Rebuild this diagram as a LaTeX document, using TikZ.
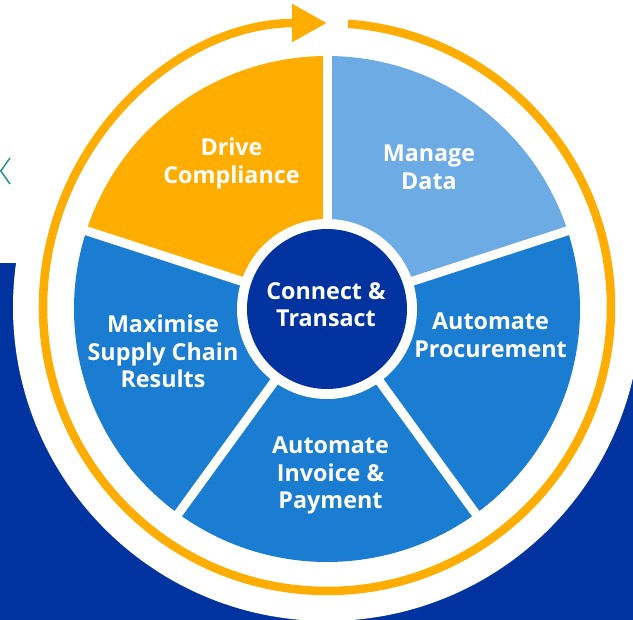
\documentclass[tikz,border=0pt]{standalone}
\usepackage{fontspec}
\setmainfont{Open Sans}
\usetikzlibrary{arrows.meta}
\definecolor{cOrange}{HTML}{FFAD00}
\definecolor{cLight}{HTML}{6CABE3}
\definecolor{cMid}{HTML}{1A7DD1}
\definecolor{cNavy}{HTML}{0033A0}
\definecolor{cTeal}{HTML}{1E8C8C}
\newcommand{\twoline}[1]{\begin{tabular}[t]{@{}c@{}}#1\end{tabular}}
\begin{document}
\begin{tikzpicture}[x=1pt,y=1pt,
  lbl/.style={text=white, font=\bfseries\fontsize{23.3}{27.5}\selectfont, anchor=base, inner sep=0pt},
  divider/.style={white, line width=9pt},
  ring/.style={cOrange, line width=8.5pt}]
\useasboundingbox (0,0) rectangle (633,620);
\fill[white] (0,0) rectangle (633,620);
\fill[cNavy] (0,0) rectangle (633,357);
\coordinate (R) at (327,313);
\coordinate (W) at (327,311);
\fill[white] (R) circle[radius=314];
% teal chevron
\coordinate (ch1) at (10,462);
\coordinate (ch2) at (0.8,449);
\coordinate (ch3) at (10,436);
\draw[cTeal, line width=1.4pt] (ch1) -- (ch2) -- (ch3);
% orange ring with arrow
\draw[ring, -{Triangle[length=35pt,width=36pt]}] ([shift={(85.76:284)}]R) arc[start angle=85.76, end angle=-270, radius=284];
% segments
\fill[cOrange] (W) -- ++(90:253) arc[start angle=90, end angle=162, radius=253] -- cycle;
\fill[cLight] (W) -- ++(18:253) arc[start angle=18, end angle=90, radius=253] -- cycle;
\fill[cMid] (W) -- ++(-54:253) arc[start angle=-54, end angle=18, radius=253] -- cycle;
\fill[cMid] (W) -- ++(-126:253) arc[start angle=-126, end angle=-54, radius=253] -- cycle;
\fill[cMid] (W) -- ++(162:253) arc[start angle=162, end angle=234, radius=253] -- cycle;
\foreach \a in {90,18,-54,-126,162} \draw[divider] (W) -- ++(\a:258);
\fill[white] (W) circle[radius=90];
\node[circle, fill=cNavy, minimum size=160pt, inner sep=0pt] (hub) at (W) {};
% labels
\node[lbl] (drive) at (231.5,464) {\twoline{Drive\\Compliance}};
\node[lbl] (manage) at (429,458) {\twoline{Manage\\Data}};
\node[lbl] (proc) at (490.5,290) {\twoline{Automate\\Procurement}};
\node[lbl] (maxi) at (163,287) {\twoline{Maximise\\Supply Chain\\Results}};
\node[lbl] (conn) at (326,320.7) {\twoline{Connect \&\\Transact}};
\node[lbl] (invoice) at (330.5,166) {\twoline{Automate\\Invoice \&\\Payment}};
\end{tikzpicture}
\end{document}
